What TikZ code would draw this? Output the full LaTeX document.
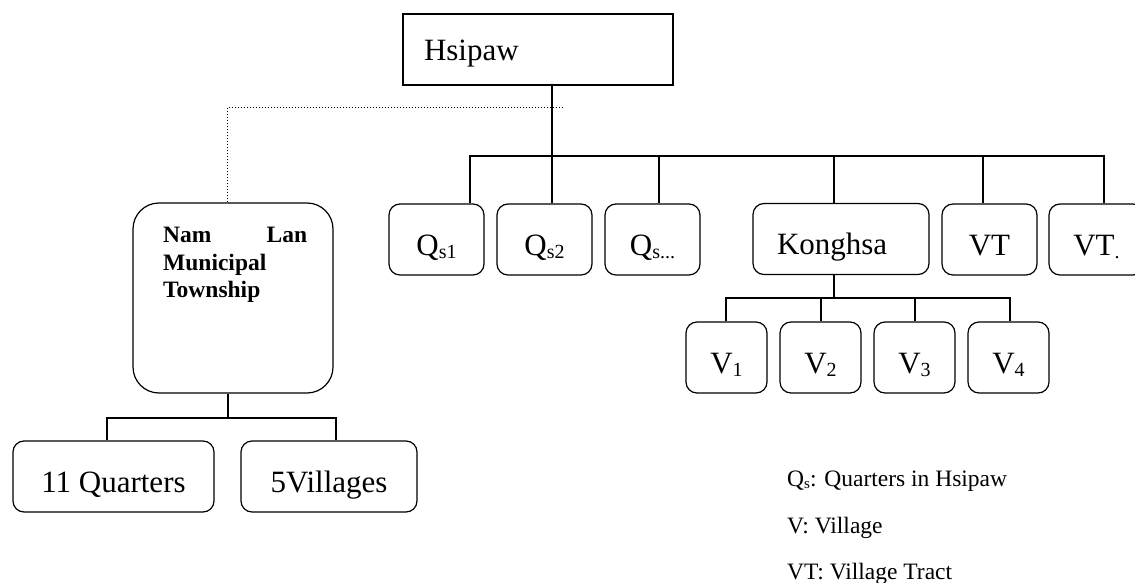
\documentclass[tikz,border=0pt]{standalone}
\usepackage{fontspec}
\setmainfont{Liberation Serif}
\newcommand{\mysub}[2][20]{\raisebox{-0.12em}{\fontsize{#1}{#1}\selectfont #2}}
\begin{document}
\begin{tikzpicture}[x=1pt,y=-1pt,
  box/.style={draw, line width=1.2pt, rounded corners=11pt, minimum height=71pt, inner sep=0pt,
    font=\fontsize{31}{37}\selectfont, text height=31pt, text depth=0pt},
  conn/.style={line width=1.1pt},
  dots/.style={line width=1pt, dash pattern=on 1pt off 2pt},
  legend/.style={anchor=base west, inner sep=0pt, font=\fontsize{23.5}{28}\selectfont}]
\useasboundingbox (0,0) rectangle (1135,583);
\clip (0,0) rectangle (1135,583);

% top
\node[draw, line width=1.5pt, minimum width=270pt, minimum height=71pt, inner xsep=21pt, inner ysep=0pt,
  text width=228pt, align=left, font=\fontsize{31}{37}\selectfont, text height=23pt, text depth=0pt]
  (hsipaw) at (538,49.5) {Hsipaw};

% second row
\node[box, minimum width=95pt] (q1) at (436.5,239.5) {Q\mysub{s1}};
\node[box, minimum width=95pt] (q2) at (544.5,239.5) {Q\mysub{s2}};
\node[box, minimum width=95pt] (q3) at (652.5,239.5) {Q\mysub{s...}};
\node[box, minimum width=176pt, text width=128pt, inner xsep=24pt, align=left] (kong) at (841,239) {Konghsa};
\node[box, minimum width=95pt] (vt1) at (989.5,239.5) {VT};
\node[box, minimum width=95pt] (vt2) at (1096.5,239.5) {VT\mysub{.}};

% villages of Konghsa
\node[box, minimum width=81pt] (v1) at (726.5,357.5) {V\mysub{1}};
\node[box, minimum width=81pt] (v2) at (820.5,357.5) {V\mysub{2}};
\node[box, minimum width=81pt] (v3) at (914.5,357.5) {V\mysub{3}};
\node[box, minimum width=81pt] (v4) at (1008.5,357.5) {V\mysub{4}};

% Nam Lan
\node[box, rounded corners=26pt, minimum width=200pt, minimum height=190pt] (namlan) at (233,298) {};
\node[anchor=north west, inner sep=0pt, text width=144pt, align=justify,
  font={\bfseries\fontsize{23.5}{27.5}\selectfont\hyphenpenalty=10000\tolerance=10000}]
  (namlantext) at (163,227) {Nam Lan Municipal Township};
\node[box, minimum width=201pt] (quarters) at (113.5,476.5) {11 Quarters};
\node[box, minimum width=176pt] (villages) at (329,476.5) {5Villages};

% legend
\node[legend] (lq) at (787,486) {Q\mysub[15]{s}: Quarters in Hsipaw};
\node[legend] (lv) at (787,533) {V: Village};
\node[legend] (lvt) at (787,579) {VT: Village Tract};

% connectors
\draw[conn] (552,0 |- hsipaw.south) -- (552,156);
\draw[conn] (470,0 |- q1.north) |- (1104,156) -- (1104,0 |- vt2.north);
\draw[conn] (552,156) -- (552,0 |- q2.north);
\draw[conn] (659,156) -- (659,0 |- q3.north);
\draw[conn] (834,156) -- (834,0 |- kong.north);
\draw[conn] (983,156) -- (983,0 |- vt1.north);

\draw[conn] (834,0 |- kong.south) -- (834,298);
\draw[conn] (726,0 |- v1.north) |- (1010,298) -- (1010,0 |- v4.north);
\draw[conn] (821,298) -- (821,0 |- v2.north);
\draw[conn] (915,298) -- (915,0 |- v3.north);

\draw[conn] (228,0 |- namlan.south) -- (228,418);
\draw[conn] (107,0 |- quarters.north) |- (336,418) -- (336,0 |- villages.north);

\coordinate (dotend) at (563,108);
\draw[dots] (227,0 |- namlan.north) |- (dotend);
\end{tikzpicture}
\end{document}
